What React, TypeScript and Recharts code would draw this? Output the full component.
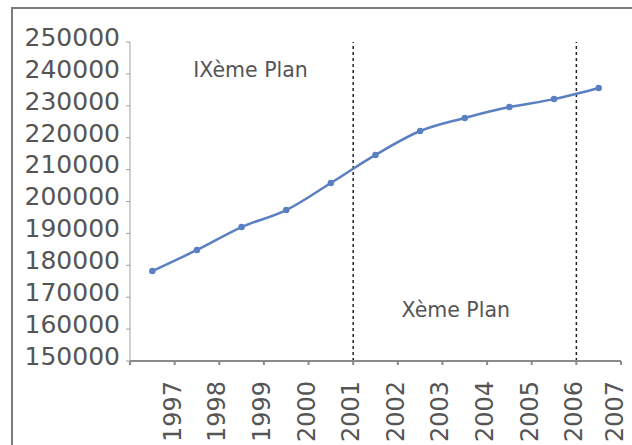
import { LineChart, Line, XAxis, YAxis, ReferenceLine, ReferenceArea } from "recharts"

const years = ["1997", "1998", "1999", "2000", "2001", "2002", "2003", "2004", "2005", "2006", "2007"]
const effectifs = [178200, 184800, 192000, 197300, 205800, 214600, 222100, 226200, 229600, 232100, 235600]
const yTicks = [150000, 160000, 170000, 180000, 190000, 200000, 210000, 220000, 230000, 240000, 250000]
const planBreaks = ["2001", "2006"]

// each year sits in the middle of its slot; the year label marks the slot's right edge
const data = years.map((year, i) => ({ pos: i + 0.5, year, value: effectifs[i] }))
const xTicks = years.map((_, i) => i).concat(years.length)
const slotOf = (year: string) => years.indexOf(year) + 1

const font = "'DejaVu Sans', sans-serif"
const grey = "#555"

function YearTick({ x, y, payload }: any) {
  const label = payload.value === 0 ? "" : years[payload.value - 1]
  const last = payload.value === years.length
  const cx = x - (last ? 6 : 2)
  return (
    <text
      x={cx}
      y={y + 14}
      transform={`rotate(-90, ${cx}, ${y + 14})`}
      textAnchor="end"
      dominantBaseline="central"
      fill={grey}
      fontSize={24}
      fontFamily={font}
    >
      {label}
    </text>
  )
}

export default function App() {
  return (
    <div style={{ position: "fixed", left: 0, top: 0, width: 632, height: 445, background: "#fff", overflow: "hidden" }}>
      <div
        style={{
          position: "absolute",
          left: 11,
          top: 7,
          width: 700,
          height: 500,
          border: "2.5px solid #7c7c7c",
        }}
      />
      <div style={{ position: "absolute", left: 0, top: 0 }}>
        <LineChart width={632} height={445} data={data} margin={{ top: 42, right: 11, left: 0, bottom: 0 }}>
          <XAxis
            type="number"
            dataKey="pos"
            domain={[0, years.length]}
            ticks={xTicks}
            interval={0}
            height={84}
            stroke="#8a8a8a"
            strokeWidth={2}
            tickSize={4}
            tick={<YearTick />}
          />
          <YAxis
            domain={[150000, 250000]}
            ticks={yTicks}
            interval={0}
            width={130}
            stroke="#a0a0a0"
            tickSize={4}
            tickMargin={6}
            tick={{ fill: grey, fontSize: 25, fontFamily: font, dy: -5 }}
          />
          <ReferenceArea
            x1={0}
            x2={slotOf(planBreaks[0])}
            fill="none"
            label={{ value: "IXème Plan", position: "insideTop", offset: 20, dx: 9, fill: grey, fontSize: 20.5, fontFamily: font }}
          />
          <ReferenceArea
            x1={slotOf(planBreaks[0])}
            x2={slotOf(planBreaks[1])}
            fill="none"
            label={{ value: "Xème Plan", position: "insideBottom", offset: 44, dx: -9, fill: grey, fontSize: 20.5, fontFamily: font }}
          />
          {planBreaks.map((y) => (
            <ReferenceLine key={y} x={slotOf(y)} stroke="#222" strokeWidth={1.5} strokeDasharray="3 3" />
          ))}
          <Line
            type="monotone"
            dataKey="value"
            stroke="#5a80c2"
            strokeWidth={2.5}
            dot={{ r: 2, fill: "#5a80c2", stroke: "#5a80c2" }}
            isAnimationActive={false}
          />
        </LineChart>
      </div>
    </div>
  )
}
